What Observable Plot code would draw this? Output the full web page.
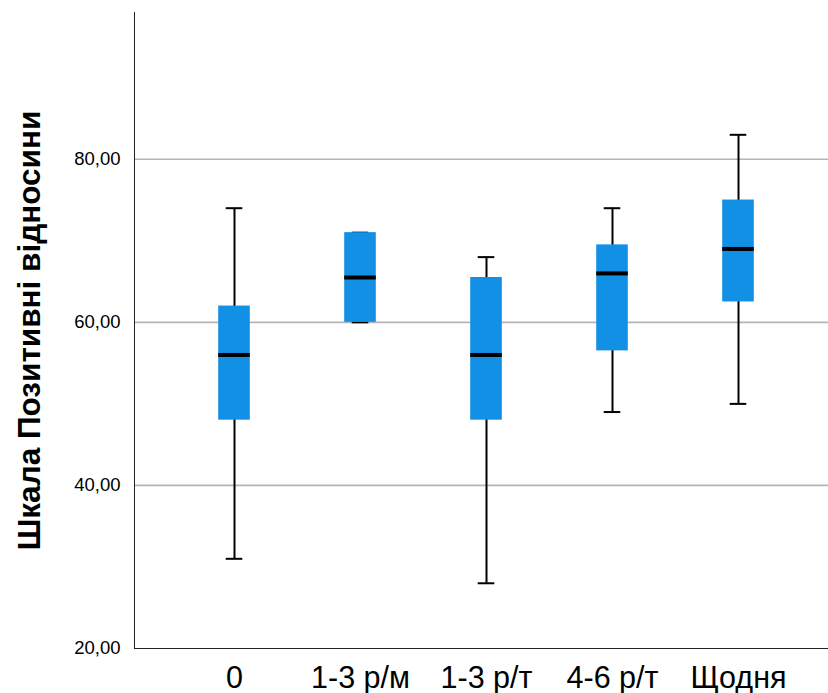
<!DOCTYPE html>
<html>
<head>
<meta charset="utf-8">
<script src="https://cdn.jsdelivr.net/npm/d3@7"></script>
<script src="https://cdn.jsdelivr.net/npm/@observablehq/plot@0.6"></script>
<style>
  html, body { margin: 0; padding: 0; background: #fff; }
  #chart svg { display: block; }
</style>
</head>
<body>
<div id="chart"></div>
<script>
// Frequency groups and box-plot summaries for the "Позитивні відносини" scale
const categories = ["0", "1-3 р/м", "1-3 р/т", "4-6 р/т", "Щодня"];
const whiskerLow  = [31, 60, 28, 49, 50];
const quartile1   = [48, 60, 48, 56.5, 62.5];
const medians     = [56, 65.5, 56, 66, 69];
const quartile3   = [62, 71, 65.5, 69.5, 75];
const whiskerHigh = [74, 71, 68, 74, 83];
const yTicks = [20, 40, 60, 80];
const gridTicks = [40, 60, 80];
const yTitle = "Шкала Позитивні відносини";

const rows = categories.map((c, i) => ({
  cat: c,
  lo: whiskerLow[i],
  q1: quartile1[i],
  med: medians[i],
  q3: quartile3[i],
  hi: whiskerHigh[i]
}));

const boxColor = "#1290e6";
const fmt = d => d.toFixed(2).replace(".", ",");

const chart = Plot.plot({
  width: 828,
  height: 693,
  marginTop: 12,
  marginBottom: 45,
  marginLeft: 134,
  marginRight: 0,
  style: { fontFamily: "'Liberation Sans', Arial, sans-serif", background: "#fff", color: "#000" },
  x: { domain: categories, padding: 0, insetLeft: 36, insetRight: 26, label: null },
  y: { domain: [20, 98], label: null },
  marks: [
    Plot.gridY(gridTicks, { stroke: "#b5b5b5", strokeOpacity: 1, strokeWidth: 1.6 }),
    Plot.frame({ anchor: "left", stroke: "#222" }),
    Plot.frame({ anchor: "bottom", stroke: "#222" }),
    Plot.ruleX(rows, { x: "cat", y1: "lo", y2: "hi", stroke: "#000", strokeWidth: 2 }),
    Plot.tickY(rows, { x: "cat", y: "lo", stroke: "#000", strokeWidth: 2, insetLeft: 54.7, insetRight: 54.7 }),
    Plot.tickY(rows, { x: "cat", y: "hi", stroke: "#000", strokeWidth: 2, insetLeft: 54.7, insetRight: 54.7 }),
    Plot.barY(rows, { x: "cat", y1: "q1", y2: "q3", fill: boxColor, insetLeft: 47.2, insetRight: 47.2 }),
    Plot.tickY(rows, { x: "cat", y: "med", stroke: "#000", strokeWidth: 4, insetLeft: 47.2, insetRight: 47.2 }),
    Plot.axisY(yTicks, { anchor: "left", tickSize: 0, tickPadding: 14, fontSize: 18.5, tickFormat: fmt, label: null }),
    Plot.axisX({ anchor: "bottom", tickSize: 0, tickPadding: 18, fontSize: 30.5, label: null }),
    Plot.text([yTitle], {
      frameAnchor: "left", textAnchor: "middle", lineAnchor: "middle",
      rotate: -90, dx: -105,
      fontSize: 31.5, fontWeight: "bold", fill: "#000"
    })
  ]
});

document.getElementById("chart").appendChild(chart);
</script>
</body>
</html>
